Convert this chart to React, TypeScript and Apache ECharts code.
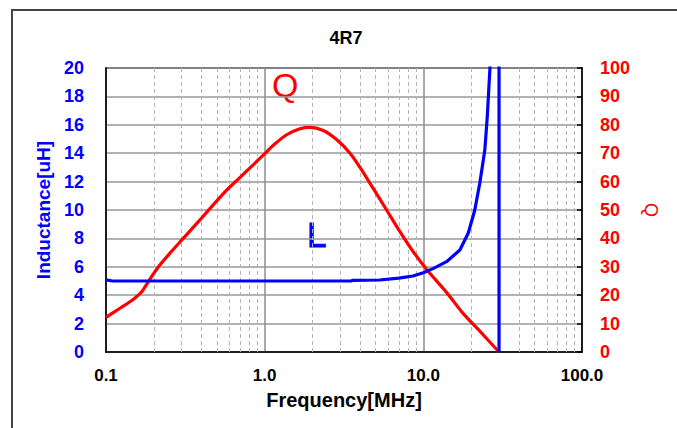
import { useEffect, useRef } from "react";
import * as echarts from "echarts";

const chartTitle = "4R7";
const xName = "Frequency[MHz]";
const yLeftName = "Inductance[uH]";
const yRightName = "Q";

// minor (dashed) vertical grid lines of the log axis
const minorGridFreqs = [
  0.2, 0.3, 0.4, 0.5, 0.6, 0.7, 0.8, 0.9,
  2, 3, 4, 5, 6, 7, 8, 9,
  20, 30, 40, 50, 60, 70, 80, 90,
];

// Inductance [uH] vs frequency [MHz]
const lFreq = [0.1, 0.11, 0.2, 0.5, 1, 2, 3.5, 3.6, 5.3, 7, 8.6, 10, 11.6, 14, 17, 19.2, 21.1, 22.7, 24.4, 25.3, 26.3, 27.5, 30, 30];
const lVal = [5.08, 5.0, 5.0, 5.0, 5.0, 5.0, 5.0, 5.05, 5.07, 5.2, 5.35, 5.58, 5.89, 6.36, 7.18, 8.38, 10.0, 11.9, 14.2, 16.6, 20.0, 30, 30, 0];

// Q vs frequency [MHz]
const qFreq = [0.1, 0.1225, 0.149, 0.168, 0.185, 0.214, 0.253, 0.307, 0.391, 0.474, 0.576, 0.7, 0.85, 1.03, 1.133, 1.376, 1.669, 1.929, 2.34, 2.84, 3.45, 3.99, 4.83, 5.87, 7.12, 8.64, 10.7, 14.0, 17.8, 23.0, 30];
const qVal = [12.2, 15.4, 18.6, 21.2, 24.8, 30.0, 34.8, 40.0, 46.5, 51.8, 57.0, 61.5, 66.0, 70.5, 72.8, 76.5, 78.6, 79.1, 78.0, 74.8, 70.0, 65.0, 57.6, 50.0, 42.4, 35.3, 28.5, 21.0, 13.6, 7.0, 0];

const FONT = "'Liberation Sans', Arial, sans-serif";

export default function App() {
  const ref = useRef<HTMLDivElement>(null);
  useEffect(() => {
    const chart = echarts.init(ref.current!, null, { renderer: "svg" });
    const lData = lFreq.map((f, i) => [f, lVal[i]]);
    const qData = qFreq.map((f, i) => [f, qVal[i]]);
    chart.setOption({
      animation: false,
      backgroundColor: "#fff",
      grid: {
        left: 106,
        top: 68,
        right: 95,
        bottom: 76,
        show: true,
        borderColor: "#000",
        borderWidth: 1.5,
        backgroundColor: "transparent",
      },
      xAxis: {
        type: "log",
        logBase: 10,
        min: 0.1,
        max: 100,
        name: xName,
        nameLocation: "middle",
        nameGap: 38,
        nameTextStyle: { color: "#000", fontWeight: "bold", fontSize: 20, fontFamily: FONT },
        axisLine: { show: true, lineStyle: { color: "#000", width: 1.5 } },
        axisTick: { show: false },
        axisLabel: {
          color: "#000",
          fontWeight: "bold",
          fontSize: 17,
          fontFamily: FONT,
          margin: 15,
          showMinLabel: true,
          showMaxLabel: true,
          formatter: (v: number) => v.toFixed(1),
        },
        splitLine: { show: true, lineStyle: { color: "#8c8c8c", width: 1.5 } },
      },
      yAxis: [
        {
          type: "value",
          position: "left",
          min: 0,
          max: 20,
          interval: 2,
          name: yLeftName,
          nameLocation: "middle",
          nameGap: 50,
          nameTextStyle: { color: "#0000ff", fontWeight: "bold", fontSize: 19, fontFamily: FONT },
          axisLine: { show: true, lineStyle: { color: "#000", width: 1.5 } },
          axisTick: { show: false },
          axisLabel: { color: "#0000ff", fontWeight: "bold", fontSize: 18, fontFamily: FONT, margin: 22 },
          splitLine: { show: true, lineStyle: { color: "#999", width: 1.5 } },
        },
        {
          type: "value",
          position: "right",
          min: 0,
          max: 100,
          interval: 10,
          name: yRightName,
          nameLocation: "middle",
          nameRotate: -90,
          nameGap: 60,
          nameTextStyle: { color: "#ff0000", fontSize: 18, fontFamily: FONT },
          axisLine: { show: true, lineStyle: { color: "#000", width: 1.5 } },
          axisTick: { show: true, inside: true, length: 5, lineStyle: { color: "#000", width: 1.5 } },
          axisLabel: { color: "#ff0000", fontWeight: "bold", fontSize: 18, fontFamily: FONT, margin: 18 },
          splitLine: { show: false },
        },
      ],
      graphic: [
        {
          type: "rect",
          silent: true,
          shape: { x: 12, y: 10, width: 700, height: 500 },
          style: { fill: "none", stroke: "#444", lineWidth: 2 },
        },
        {
          type: "text",
          silent: true,
          x: 346,
          y: 38,
          style: { text: chartTitle, fill: "#000", fontSize: 18, fontWeight: "bold", fontFamily: FONT, align: "center", verticalAlign: "middle" },
        },
        {
          type: "text",
          silent: true,
          x: 272,
          y: 85,
          style: { text: "Q", fill: "#ff0000", fontSize: 34, fontFamily: FONT, align: "left", verticalAlign: "middle" },
        },
        {
          type: "text",
          silent: true,
          x: 307,
          y: 234,
          style: { text: "L", fill: "#0000ff", stroke: "#0000ff", lineWidth: 1, fontSize: 35, fontFamily: FONT, align: "left", verticalAlign: "middle" },
        },
      ],
      series: [
        {
          type: "line",
          data: [],
          z: 1,
          silent: true,
          markLine: {
            silent: true,
            z: 1,
            symbol: ["none", "none"],
            label: { show: false },
            lineStyle: { color: "#b4b4b4", type: [4, 3], width: 1 },
            data: minorGridFreqs.map((v) => ({ xAxis: v })),
          },
        },
        {
          name: "Q",
          type: "line",
          yAxisIndex: 1,
          data: qData,
          showSymbol: false,
          clip: true,
          smooth: 0.3,
          lineStyle: { color: "#ff0000", width: 3.2 },
          itemStyle: { color: "#ff0000" },
          z: 3,
        },
        {
          name: "L",
          type: "line",
          yAxisIndex: 0,
          data: lData,
          showSymbol: false,
          clip: true,
          lineStyle: { color: "#0000ff", width: 3.2 },
          itemStyle: { color: "#0000ff" },
          z: 4,
        },
      ],
    });
    return () => chart.dispose();
  }, []);
  return <div ref={ref} style={{ position: "absolute", left: 0, top: 0, width: 677, height: 428 }} />;
}
